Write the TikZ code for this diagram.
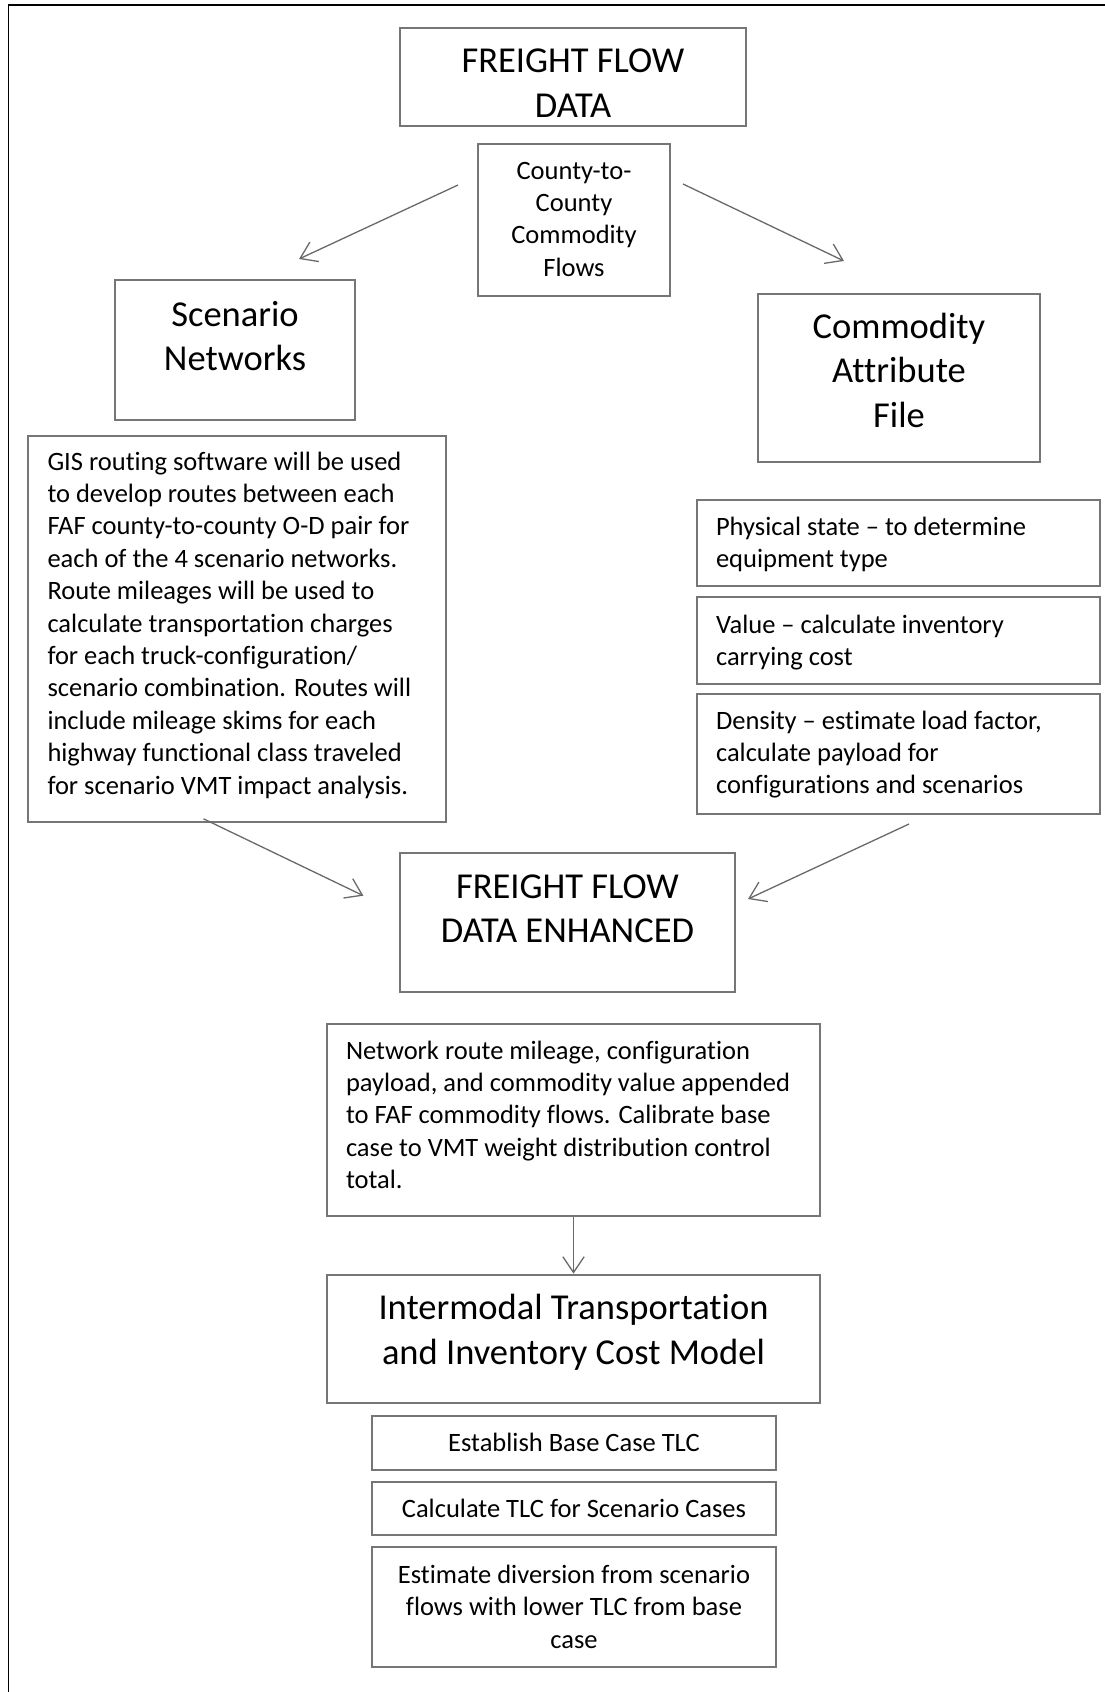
\documentclass[tikz,border=0pt]{standalone}
\usepackage{fontspec}
\setmainfont{Carlito}[RawFeature={-liga;-clig;-calt;-dlig;-hlig}]
\usetikzlibrary{arrows.meta}
\newlength\px \setlength\px{0.5pt}
\definecolor{boxgray}{RGB}{118,118,118}
\definecolor{arrgray}{RGB}{105,105,105}
\newcommand\bodyf{\fontsize{13.25pt}{16.2pt}\selectfont}
\newcommand\bigf{\fontsize{18.25pt}{22.25pt}\selectfont}
% #1 width px, #2 height px, #3 first baseline from top px, #4 setup, #5 text
\newcommand\boxtxt[5]{\parbox[c][#2\px][t]{#1\px}{#4\rule{0pt}{#3\px}#5}}
\newcommand\ctr{\centering}
\newcommand\lft[1]{\raggedright\leftskip=#1\px\relax\rightskip=0pt plus 1fil\relax}
\begin{document}
\begin{tikzpicture}[x=0.5pt,y=-0.5pt,
  bx/.style={draw=boxgray, line width=1pt, inner sep=0pt, anchor=north west},
  arr/.style={draw=arrgray, line width=0.65pt, -{Straight Barb[length=7.9pt,width=10.7pt]}}]
\useasboundingbox (0,0) rectangle (1104,1692);
% outer frame (only left and top edges visible)
\draw[black, line width=0.7pt] (8.5,1700) -- (8.5,5) -- (1110,5);

\node[bx] (ffd) at (399,26.7) {\boxtxt{346}{97.8}{45}{\bigf\ctr}{FREIGHT FLOW\\DATA}};
\node[bx] (county) at (477,142.7) {\boxtxt{192}{152.3}{35.3}{\bodyf\ctr}{County-to-\\County\\Commodity\\Flows}};
\node[bx] (scen) at (114,279) {\boxtxt{240}{140}{46}{\bigf\ctr}{Scenario\\Networks}};
\node[bx] (caf) at (757,293) {\boxtxt{282}{168}{44}{\bigf\ctr}{Commodity\\Attribute\\File}};
\node[bx] (gis) at (27,434.5) {\boxtxt{418}{386.5}{34.5}{\bodyf\lft{19.5}}{GIS routing software will be used\\to develop routes between each\\FAF county-to-county O-D pair for\\each of the 4 scenario networks.\\Route mileages will be used to\\calculate transportation charges\\for each truck-configuration/\\scenario combination. Routes will\\include mileage skims for each\\highway functional class traveled\\for scenario VMT impact analysis.}};
\node[bx] (phys) at (696,498.5) {\boxtxt{403}{86.5}{35.5}{\bodyf\lft{19}}{Physical state – to determine\\equipment type}};
\node[bx] (val) at (696,596) {\boxtxt{403}{87}{36.4}{\bodyf\lft{19}}{Value – calculate inventory\\carrying cost}};
\node[bx] (dens) at (696,692.5) {\boxtxt{403}{120.5}{35.5}{\bodyf\lft{19}}{Density – estimate load factor,\\calculate payload for\\configurations and scenarios}};
\node[bx] (ffde) at (399,851.7) {\boxtxt{335}{139.3}{45.3}{\bigf\ctr}{FREIGHT FLOW\\DATA ENHANCED}};
\node[bx] (net) at (326,1023) {\boxtxt{493}{192}{35}{\bodyf\lft{19}}{Network route mileage, configuration\\payload, and commodity value appended\\to FAF commodity flows. Calibrate base\\case to VMT weight distribution control\\total.}};
\node[bx] (itic) at (326,1273.6) {\boxtxt{493}{128.4}{45}{\bigf\ctr}{Intermodal Transportation\\and Inventory Cost Model}};
\node[bx] (est) at (371,1415) {\boxtxt{404}{53.6}{35}{\bodyf\ctr}{Establish Base Case TLC}};
\node[bx] (calc) at (371,1481) {\boxtxt{404}{53}{35}{\bodyf\ctr}{Calculate TLC for Scenario Cases}};
\node[bx] (estim) at (371,1546) {\boxtxt{404}{119.5}{36.5}{\bodyf\ctr}{Estimate diversion from scenario\\flows with lower TLC from base\\case}};

% connector end points
\coordinate (a1s) at (458,185);
\coordinate (a1e) at (299,259);
\coordinate (a2s) at (683,184);
\coordinate (a2e) at (844,261);
\coordinate (a3s) at (203.5,818.8);
\coordinate (a3e) at (363.4,895.7);
\coordinate (a4s) at (909,824);
\coordinate (a4e) at (748,899);

\draw[arr] (a1s) -- (a1e);
\draw[arr] (a2s) -- (a2e);
\draw[arr] (a3s) -- (a3e);
\draw[arr] (a4s) -- (a4e);
\draw[arr] (net.south) -- (itic.north);
\end{tikzpicture}
\end{document}
